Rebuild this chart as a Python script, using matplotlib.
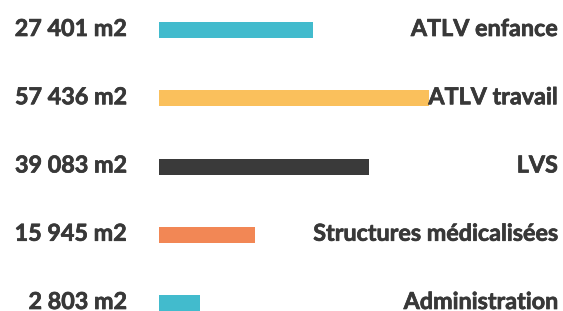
import matplotlib
matplotlib.use("Agg")
import matplotlib.pyplot as plt
import matplotlib.patheffects as pe

# data
categories = ["ATLV enfance", "ATLV travail", "LVS",
              "Structures médicalisées", "Administration"]
value_labels = ["27 401 m2", "57 436 m2", "39 083 m2", "15 945 m2", "2 803 m2"]
# bar lengths as drawn in the reference (not proportional to the labels)
bar_lengths = [154, 270, 210, 96, 41]
colors = ["#42BBCD", "#FAC05C", "#3A3A3A", "#F28755", "#42BBCD"]

text_color = "#383838"
plt.rcParams["font.family"] = ["Lato", "DejaVu Sans"]

W, H = 563, 311
fig = plt.figure(figsize=(W / 100, H / 100), dpi=100)
fig.patch.set_facecolor("white")

left_px = 159
ax = fig.add_axes([left_px / W, 0, (W - left_px) / W, 1])
ax.set_xlim(0, W - left_px)

# row 0 centred at y=30px, row 4 at y=303px
step = (303 - 30) / 4
ax.set_ylim(4 + (H - 303) / step, -30 / step)

ypos = list(range(len(categories)))
ax.barh(ypos, bar_lengths, height=16 / step, color=colors, left=0)

# browser text looks a bit darker than agg's, thicken slightly
thick = [pe.withStroke(linewidth=0.5, foreground=text_color)]
base = 6 / step  # text baseline sits a little below the bar centre
for i, (lab, cat) in enumerate(zip(value_labels, categories)):
    ax.text(-32, i + base, lab, ha="right", va="baseline", fontsize=16.8,
            fontweight="bold", color=text_color, clip_on=False,
            path_effects=thick)
    ax.text(W - left_px - 5, i + base, cat, ha="right", va="baseline",
            fontsize=16.8, fontweight="bold", color=text_color, clip_on=False,
            path_effects=thick)

ax.axis("off")
fig.savefig("out.png", dpi=100, facecolor="white")
